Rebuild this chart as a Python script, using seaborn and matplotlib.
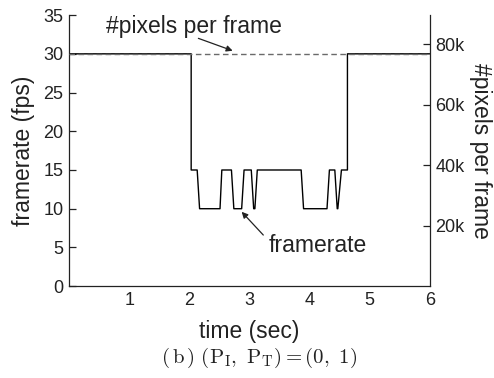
import matplotlib
matplotlib.use("Agg")
import matplotlib.pyplot as plt
import seaborn as sns
import pandas as pd

# Data
time_s = [0.0, 2.03, 2.03, 2.13, 2.17, 2.51, 2.54, 2.70, 2.74, 2.87, 2.91, 3.03,
          3.07, 3.09, 3.13, 3.86, 3.90, 4.29, 4.33, 4.42, 4.46, 4.47, 4.53, 4.63,
          4.63, 6.0]
framerate = [30, 30, 15, 15, 10, 10, 15, 15, 10, 10, 15, 15,
             10, 10, 15, 15, 10, 10, 15, 15, 10, 10, 15, 15,
             30, 30]
pix_time = [0.0, 6.0]
pixels_per_frame = [76800, 76800]

x_ticks = [1, 2, 3, 4, 5, 6]
y_ticks = [0, 5, 10, 15, 20, 25, 30, 35]
y2_ticks = [20000, 40000, 60000, 80000]
y2_labels = ["20k", "40k", "60k", "80k"]

sns.set_style("white")
plt.rcParams["font.family"] = ["Liberation Sans", "DejaVu Sans"]
plt.rcParams["mathtext.fontset"] = "cm"

INK = "#222222"
fig = plt.figure(figsize=(4.94, 3.78), dpi=100)
ax = fig.add_axes([0.140, 0.243, 0.730, 0.717])
ax2 = ax.twinx()

df = pd.DataFrame({"t": time_s, "fps": framerate})
sns.lineplot(data=df, x="t", y="fps", ax=ax, color="black", linewidth=1.0,
             sort=False, estimator=None)
df2 = pd.DataFrame({"t": pix_time, "px": pixels_per_frame})
sns.lineplot(data=df2, x="t", y="px", ax=ax2, color="#6a6a6a", linewidth=1.0,
             linestyle=(0, (4, 2.5)), estimator=None)

ax.set_xlim(0, 6)
ax.set_ylim(0, 35)
ax2.set_ylim(0, 76800 * 35 / 30)
ax.set_xticks(x_ticks)
ax.set_yticks(y_ticks)
ax2.set_yticks(y2_ticks)
ax2.set_yticklabels(y2_labels)

for a in (ax, ax2):
    a.spines["top"].set_visible(False)
    for s in a.spines.values():
        s.set_linewidth(0.9)
        s.set_color(INK)
ax.spines["right"].set_visible(False)
ax2.spines["left"].set_visible(False)
ax2.spines["bottom"].set_visible(False)

ax.tick_params(axis="both", direction="in", length=5, width=0.9, labelsize=13,
               colors=INK, pad=4)
ax2.yaxis.set_tick_params(which="both", direction="in", length=5, width=0.9,
                          labelsize=13, colors=INK, pad=4, right=True, left=False)

ax.set_xlabel("time (sec)", fontsize=16.5, color=INK, labelpad=8)
ax.set_ylabel("framerate (fps)", fontsize=16.5, color=INK, labelpad=6)
ax2.set_ylabel("#pixels per frame", fontsize=16.5, color=INK, rotation=270,
               labelpad=20)

arrow = dict(arrowstyle="-|>", color=INK, lw=0.9, shrinkA=0, shrinkB=0,
             mutation_scale=9)
ax.text(2.07, 33.5, "#pixels per frame", fontsize=16.5, color=INK,
        ha="center", va="center")
ax.annotate("", xy=(2.72, 30.4), xytext=(2.15, 32.0), arrowprops=arrow)
ax.text(4.13, 5.2, "framerate", fontsize=16.5, color=INK,
        ha="center", va="center")
ax.annotate("", xy=(2.87, 9.6), xytext=(3.23, 6.6), arrowprops=arrow)

fig.text(0.525, 0.052, r"$(\,\mathrm{b}\,)\ (\mathrm{P_I},\ \mathrm{P_T}) = (0,\ 1)$",
         ha="center", va="center", fontsize=15, color=INK)

fig.savefig("out.png", dpi=100)
